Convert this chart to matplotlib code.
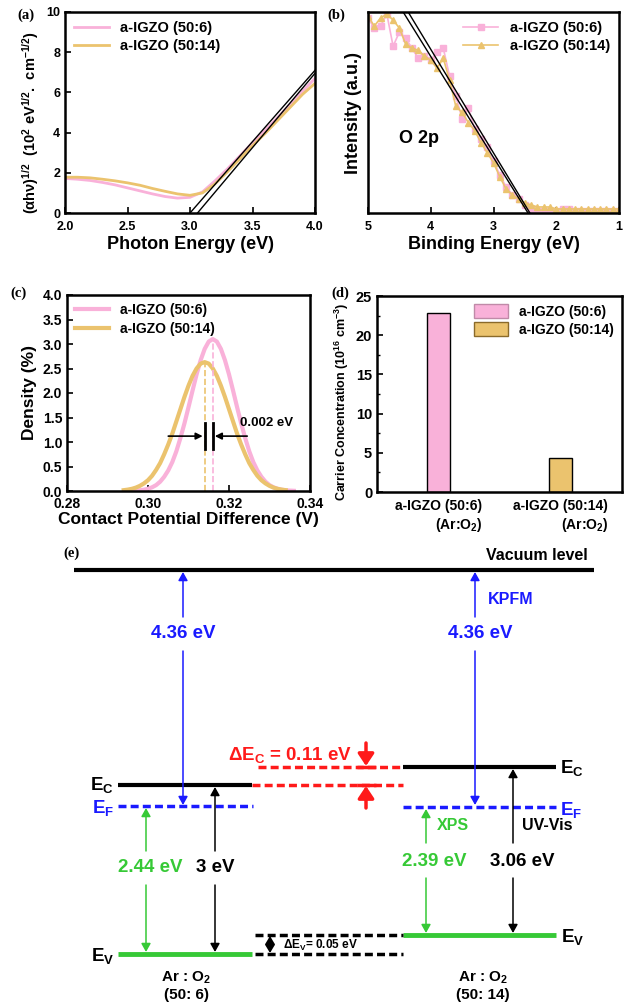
import matplotlib
matplotlib.use('Agg')
import matplotlib.pyplot as plt
from matplotlib.patches import Patch
from matplotlib.ticker import MultipleLocator

plt.rcParams['font.family'] = ['Liberation Sans', 'DejaVu Sans']
plt.rcParams['font.weight'] = 'bold'
plt.rcParams['axes.labelweight'] = 'bold'
plt.rcParams['mathtext.fontset'] = 'custom'
plt.rcParams['mathtext.rm'] = 'Liberation Sans'
plt.rcParams['mathtext.bf'] = 'Liberation Sans:bold'
plt.rcParams['mathtext.it'] = 'Liberation Sans:italic'
plt.rcParams['mathtext.default'] = 'bf'

# ---------------- data ----------------
series_names = ['a-IGZO (50:6)', 'a-IGZO (50:14)']
PINK = '#F9B1D9'
GOLD = '#EBC36E'

# (a) Tauc plot
tauc_E = [2.0, 2.1, 2.2, 2.3, 2.4, 2.5, 2.6, 2.7, 2.8, 2.9, 3.0,
          3.1, 3.2, 3.3, 3.4, 3.5, 3.6, 3.7, 3.8, 3.9, 4.0]
tauc_506 = [1.72, 1.68, 1.62, 1.52, 1.40, 1.25, 1.10, 0.95, 0.82, 0.74, 0.78,
            1.05, 1.60, 2.20, 2.85, 3.50, 4.10, 4.75, 5.40, 6.05, 6.70]
tauc_5014 = [1.78, 1.78, 1.75, 1.68, 1.60, 1.50, 1.38, 1.22, 1.08, 0.95, 0.88,
             1.00, 1.45, 2.05, 2.70, 3.35, 3.95, 4.60, 5.25, 5.90, 6.45]
tauc_fit_x = [[3.00, 4.00], [3.06, 4.00]]
tauc_fit_y = [[0.0, 7.10], [0.0, 6.95]]

# (b) valence band spectra
vb_E = [5.0, 4.9, 4.8, 4.7, 4.6, 4.5, 4.4, 4.3, 4.2, 4.1, 4.0, 3.9, 3.8, 3.7,
        3.6, 3.5, 3.4, 3.3, 3.2, 3.1, 3.0, 2.9, 2.8, 2.7, 2.6, 2.5, 2.4, 2.3,
        2.2, 2.1, 2.0, 1.9, 1.8, 1.7, 1.6, 1.5, 1.4, 1.3, 1.2, 1.1, 1.0]
vb_506 = [0.97, 0.92, 0.93, 0.99, 0.83, 0.90, 0.87, 0.82, 0.77, 0.78, 0.76,
          0.80, 0.82, 0.68, 0.58, 0.47, 0.52, 0.42, 0.37, 0.33, 0.26, 0.19,
          0.13, 0.09, 0.07, 0.04, 0.02, 0.01, 0.01, 0.01, 0.01, 0.02, 0.02,
          0.01, 0.01, 0.01, 0.01, 0.01, 0.01, 0.01, 0.01]
vb_5014 = [0.98, 0.93, 0.97, 0.99, 0.96, 0.92, 0.84, 0.82, 0.81, 0.78, 0.76,
           0.72, 0.77, 0.66, 0.53, 0.50, 0.45, 0.41, 0.35, 0.30, 0.25, 0.18,
           0.12, 0.09, 0.07, 0.05, 0.04, 0.03, 0.03, 0.03, 0.02, 0.02, 0.02,
           0.02, 0.02, 0.02, 0.02, 0.02, 0.02, 0.02, 0.02]
vb_fit_x = [[4.44, 2.45], [4.36, 2.42]]
vb_fit_y = [[1.0, 0.0], [1.0, 0.0]]

# (c) CPD distributions
cpd_x_506 = [0.296, 0.297, 0.298, 0.299, 0.300, 0.301, 0.302, 0.303, 0.304,
             0.305, 0.306, 0.307, 0.308, 0.309, 0.310, 0.311, 0.312, 0.313,
             0.314, 0.315, 0.316, 0.317, 0.318, 0.319, 0.320, 0.321, 0.322,
             0.323, 0.324, 0.325, 0.326, 0.327, 0.328, 0.329, 0.330, 0.331,
             0.332, 0.333, 0.334, 0.335, 0.336]
cpd_y_506 = [0.004, 0.008, 0.015, 0.026, 0.045, 0.075, 0.12, 0.19, 0.29, 0.42,
             0.59, 0.81, 1.08, 1.38, 1.71, 2.05, 2.38, 2.67, 2.90, 3.05, 3.10,
             3.05, 2.90, 2.67, 2.38, 2.05, 1.71, 1.38, 1.08, 0.81, 0.59, 0.42,
             0.29, 0.19, 0.12, 0.075, 0.045, 0.026, 0.015, 0.008, 0.004]
cpd_x_5014 = [0.294, 0.295, 0.296, 0.297, 0.298, 0.299, 0.300, 0.301, 0.302,
              0.303, 0.304, 0.305, 0.306, 0.307, 0.308, 0.309, 0.310, 0.311,
              0.312, 0.313, 0.314, 0.315, 0.316, 0.317, 0.318, 0.319, 0.320,
              0.321, 0.322, 0.323, 0.324, 0.325, 0.326, 0.327, 0.328, 0.329,
              0.330, 0.331, 0.332, 0.333, 0.334]
cpd_y_5014 = [0.017, 0.028, 0.044, 0.069, 0.105, 0.155, 0.22, 0.31, 0.43, 0.57,
              0.75, 0.95, 1.17, 1.42, 1.67, 1.92, 2.15, 2.35, 2.50, 2.60, 2.63,
              2.60, 2.50, 2.35, 2.15, 1.92, 1.67, 1.42, 1.17, 0.95, 0.75, 0.57,
              0.43, 0.31, 0.22, 0.155, 0.105, 0.069, 0.044, 0.028, 0.017]
cpd_peak = [0.316, 0.314]
cpd_peak_h = [3.10, 2.63]
cpd_shift_label = '0.002 eV'

# (d) carrier concentration
carrier_labels = ['a-IGZO (50:6)\n(Ar:O$_2$)', 'a-IGZO (50:14)\n(Ar:O$_2$)']
carrier_conc = [22.8, 4.4]

# (e) band diagram values
work_function = [4.36, 4.36]
ef_to_ev = [2.44, 2.39]
band_gap = [3.0, 3.06]
delta_ec = 0.11
delta_ev = 0.05
sample_names = ['Ar : O$_2$\n(50: 6)', 'Ar : O$_2$\n(50: 14)']

# ---------------- figure ----------------
W, H = 629, 1006
fig = plt.figure(figsize=(W / 100, H / 100), dpi=100)


def px_axes(x0, y0, x1, y1):
    return fig.add_axes([x0 / W, 1 - y1 / H, (x1 - x0) / W, (y1 - y0) / H])


def style(ax, fs):
    for s in ax.spines.values():
        s.set_linewidth(1.8)
    ax.tick_params(direction='in', width=1.2, length=4, labelsize=fs)
    ax.tick_params(which='minor', direction='in', width=1.0, length=2.5)
    ax.tick_params(axis='x', pad=6)


def panel_label(x, y, t):
    fig.text(x / W, 1 - y / H, t, family='Liberation Serif', weight='bold',
             fontsize=10.5, ha='left', va='center')


# (a)
axa = px_axes(65, 12, 315, 213)
axa.plot(tauc_E, tauc_506, color=PINK, lw=2, label=series_names[0])
axa.plot(tauc_E, tauc_5014, color=GOLD, lw=2, label=series_names[1])
for fx, fy in zip(tauc_fit_x, tauc_fit_y):
    axa.plot(fx, fy, color='black', lw=1)
axa.set_xlim(2.0, 4.0)
axa.set_ylim(0, 10)
axa.xaxis.set_major_locator(MultipleLocator(0.5))
axa.yaxis.set_major_locator(MultipleLocator(2))
axa.xaxis.set_major_formatter(plt.FormatStrFormatter('%.1f'))
style(axa, 9)
axa.set_xlabel('Photon Energy (eV)', fontsize=13, labelpad=2)
axa.set_ylabel(r'$\mathrm{(\alpha h\nu)^{1/2}}$  (10$^2$ eV$^{1/2}$.  cm$^{-1/2}$)', fontsize=10.5)
axa.yaxis.set_label_coords(-0.095, 0.45)
axa.legend(loc='upper left', frameon=False, fontsize=10.5, handlelength=2.4,
           borderaxespad=0.2, labelspacing=0.3, bbox_to_anchor=(0.0, 1.0))
panel_label(17, 15, '(a)')

# (b)
axb = px_axes(368, 12, 619, 213)
axb.plot(vb_E, vb_506, color=PINK, lw=1.2, marker='s', ms=4.5, label=series_names[0])
axb.plot(vb_E, vb_5014, color=GOLD, lw=1.2, marker='^', ms=5, label=series_names[1])
for fx, fy in zip(vb_fit_x, vb_fit_y):
    axb.plot(fx, fy, color='black', lw=1)
axb.set_xlim(5, 1)
axb.set_ylim(0, 1.0)
axb.set_yticks([])
axb.xaxis.set_major_locator(MultipleLocator(1))
style(axb, 9)
axb.set_xlabel('Binding Energy (eV)', fontsize=13, labelpad=2)
axb.set_ylabel('Intensity (a.u.)', fontsize=13)
axb.text(4.18, 0.37, 'O 2p', fontsize=13, ha='center', va='center')
axb.legend(loc='upper right', frameon=False, fontsize=10.5, handlelength=2.4,
           borderaxespad=0.2, labelspacing=0.3)
panel_label(327, 15, '(b)')

# (c)
axc = px_axes(67, 295, 310, 491)
axc.plot(cpd_x_506, cpd_y_506, color=PINK, lw=3, label=series_names[0])
axc.plot(cpd_x_5014, cpd_y_5014, color=GOLD, lw=3, label=series_names[1])
for p, h, c in zip(cpd_peak, cpd_peak_h, [PINK, GOLD]):
    axc.plot([p, p], [0, h], color=c, lw=1.2, ls='--')
    axc.plot([p, p], [0.85, 1.38], color='black', lw=2)
axc.annotate('', xy=(min(cpd_peak) - 0.0005, 1.12), xytext=(0.305, 1.12),
             arrowprops=dict(arrowstyle='-|>', color='black', lw=1.2,
                             mutation_scale=10, shrinkA=0, shrinkB=0))
axc.annotate('', xy=(max(cpd_peak) + 0.0005, 1.12), xytext=(0.3245, 1.12),
             arrowprops=dict(arrowstyle='-|>', color='black', lw=1.2,
                             mutation_scale=10, shrinkA=0, shrinkB=0))
axc.text(0.3228, 1.38, cpd_shift_label, fontsize=9.5, ha='left', va='center')
axc.set_xlim(0.28, 0.34)
axc.set_ylim(0, 4.0)
axc.xaxis.set_major_locator(MultipleLocator(0.02))
axc.yaxis.set_major_locator(MultipleLocator(0.5))
axc.xaxis.set_major_formatter(plt.FormatStrFormatter('%.2f'))
axc.yaxis.set_major_formatter(plt.FormatStrFormatter('%.1f'))
style(axc, 10)
axc.tick_params(axis='x', pad=4)
axc.set_xlabel('Contact Potential Difference (V)', fontsize=12.5, labelpad=1)
axc.set_ylabel('Density (%)', fontsize=12.5)
axc.legend(loc='upper left', frameon=False, fontsize=10, handlelength=2.4,
           borderaxespad=0.2, labelspacing=0.3)
panel_label(10, 293, '(c)')

# (d)
axd = px_axes(377, 296, 622, 492)
axd.bar([0, 1], carrier_conc, width=0.19, color=[PINK, GOLD],
        edgecolor='black', lw=1)
axd.set_xlim(-0.5, 1.5)
axd.set_ylim(0, 25)
axd.set_xticks([0, 1])
axd.set_xticklabels(carrier_labels, multialignment='right')
axd.yaxis.set_major_locator(MultipleLocator(5))
axd.yaxis.set_minor_locator(MultipleLocator(2.5))
style(axd, 10.5)
axd.tick_params(axis='x', length=0, labelsize=10, pad=5)
axd.set_ylabel('Carrier Concentration (10$^{16}$ cm$^{-3}$)', fontsize=9)
axd.yaxis.set_label_coords(-0.105, 0.46)
handles = [Patch(facecolor=PINK, edgecolor='#C08AA8', label=series_names[0]),
           Patch(facecolor=GOLD, edgecolor='#8A6A2A', label=series_names[1])]
axd.legend(handles=handles, loc='upper right', frameon=False, fontsize=10,
           handlelength=2.4, handleheight=1.1, borderaxespad=0.2, labelspacing=0.25)
panel_label(331, 293, '(d)')

# (e) band diagram (schematic, pixel layout)
axe = fig.add_axes([0, 0, 1, 473 / H])
axe.set_xlim(0, W)
axe.set_ylim(H, 533)
axe.axis('off')

BLUE = '#1A1AFF'
GREEN = '#36C936'
RED = '#FF1A1A'
DASH = (0, (2.3, 1.2))

# layout (pixel positions of the schematic levels)
Y_VAC = 570
Y_EC = [785, 767]
Y_EF = [806, 807]
Y_EV = [954, 935]
X_SPAN = [(118, 252), (403, 556)]
X_MID = (255, 403)


def hline(x0, x1, y, color, lw, ls='-'):
    axe.plot([x0, x1], [y, y], color=color, lw=lw, ls=ls,
             solid_capstyle='butt', dash_capstyle='butt')


def arrow(x, y0, y1, color, lw=1.1, ms=10, style_='-|>,head_length=0.5,head_width=0.28'):
    axe.annotate('', xy=(x, y1), xytext=(x, y0),
                 arrowprops=dict(arrowstyle=style_, color=color, lw=lw,
                                 mutation_scale=ms, shrinkA=0, shrinkB=0))


def txt(x, y, s, color='black', fs=13.5, ha='center', **kw):
    axe.text(x, y, s, color=color, fontsize=fs, ha=ha, va='center', **kw)


hline(74, 594, Y_VAC, 'black', 3)
txt(588, 555, 'Vacuum level', fs=11.5, ha='right')
panel_label(63, 553, '(e)')

for i in range(2):
    x0, x1 = X_SPAN[i]
    hline(x0, x1, Y_EC[i], 'black', 3)
    hline(x0, x1 + (1 if i == 0 else 0), Y_EF[i], BLUE, 2.5, DASH)
    hline(x0, x1, Y_EV[i], GREEN, 3.5)

# offsets between the two samples
hline(X_MID[0] + 3, X_MID[1], Y_EC[1], RED, 2.5, DASH)
hline(X_MID[0] - 3, X_MID[1], Y_EC[0], RED, 2.5, DASH)
hline(357, 376, Y_EC[1], RED, 2.5)
hline(357, 376, Y_EC[0], RED, 2.5)
arrow(366, 743, Y_EC[1] - 1, RED, lw=2.5, ms=12, style_='-|>,head_length=0.6,head_width=0.4')
arrow(366, 808, Y_EC[0] + 1, RED, lw=2.5, ms=12, style_='-|>,head_length=0.6,head_width=0.4')
txt(228, 755, r'$\mathrm{\Delta}$E$_C$ = %.2f eV' % delta_ec, color=RED, fs=13.5, ha='left')

hline(X_MID[0], X_MID[1], Y_EV[1], 'black', 2.5, DASH)
hline(X_MID[0], X_MID[1], Y_EV[0], 'black', 2.5, DASH)
axe.annotate('', xy=(270, Y_EV[0] - 1), xytext=(270, Y_EV[1] + 1),
             arrowprops=dict(arrowstyle='<|-|>,head_length=0.5,head_width=0.3',
                             color='black', lw=1.5, mutation_scale=9,
                             shrinkA=0, shrinkB=0))
txt(283, 945, r'$\mathrm{\Delta}$E$_V$= %.2f eV' % delta_ev, fs=8.5, ha='left')

# labels of levels
txt(114, Y_EC[0], 'E$_C$', fs=13.5, ha='right')
txt(114, Y_EF[0] + 2, 'E$_F$', color=BLUE, fs=13.5, ha='right')
txt(114, Y_EV[0] + 2, 'E$_V$', fs=13.5, ha='right')
txt(560, Y_EC[1] + 1, 'E$_C$', fs=13.5, ha='left')
txt(560, Y_EF[1] + 3, 'E$_F$', color=BLUE, fs=13.5, ha='left')
txt(561, Y_EV[1] + 2, 'E$_V$', fs=13.5, ha='left')

# work function arrows (KPFM)
for xa in [183, 475]:
    arrow(xa, 617, Y_VAC + 2, BLUE)
    arrow(xa, 651, Y_EF[0] - 1, BLUE)
txt(183, 634, '%.2f eV' % work_function[0], color=BLUE)
txt(480, 634, '%.2f eV' % work_function[1], color=BLUE)
txt(488, 599, 'KPFM', color=BLUE, fs=11.5, ha='left')

# left sample: EF-EV (XPS) and band gap (UV-Vis)
arrow(146, 851, Y_EF[0] + 2, GREEN)
arrow(146, 885, Y_EV[0] - 2, GREEN)
txt(150, 868, '%.2f eV' % ef_to_ev[0], color=GREEN)
arrow(215, 851, Y_EC[0] + 2, 'black')
arrow(215, 885, Y_EV[0] - 2, 'black')
txt(215, 868, '%g eV' % band_gap[0])

# right sample
arrow(426, 843, Y_EF[1] + 2, GREEN)
arrow(426, 878, Y_EV[1] - 2, GREEN)
txt(434, 861, '%.2f eV' % ef_to_ev[1], color=GREEN)
arrow(513, 843, Y_EC[1] + 2, 'black')
arrow(513, 878, Y_EV[1] - 2, 'black')
txt(522, 861, '%.2f eV' % band_gap[1])
txt(437, 826, 'XPS', color=GREEN, fs=11.5, ha='left')
txt(522, 826, 'UV-Vis', fs=11.5, ha='left')

txt(186, 986, sample_names[0], fs=11, linespacing=1.2)
txt(483, 986, sample_names[1], fs=11, linespacing=1.2)

fig.savefig('out.png', dpi=100)
